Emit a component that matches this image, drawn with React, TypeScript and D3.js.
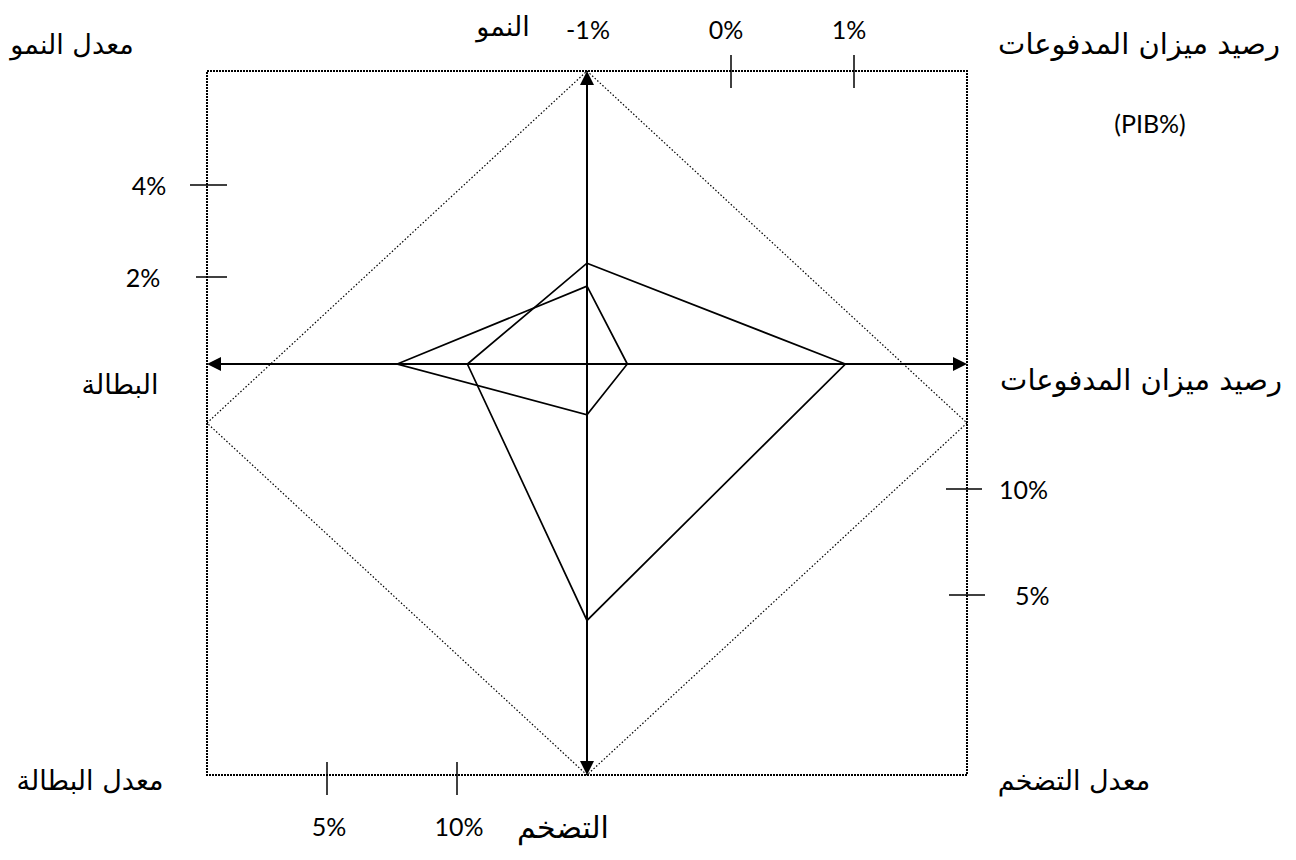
import * as d3 from "d3";

const W = 1296;
const H = 860;

// indicators of the magic square, one value per axis
const indicators = ["growth", "bop", "inflation", "unemployment"];
const seriesA: number[] = [2.3, 0.93, 3.8, 10.4];
const seriesB: number[] = [1.8, -0.72, 13.5, 7.7];

const growthTicks = [2, 4];
const bopTicks = [-1, 0, 1];
const inflationTicks = [10, 5];
const unempTicks = [5, 10];

const frame = { left: 207, right: 967, top: 71, bottom: 775 };
const cx = 587;
const cy = 364;

const growthY = d3.scaleLinear().domain([2, 4]).range([277, 185]);
const bopX = d3.scaleLinear().domain([-1, 0, 1]).range([587, 731, 854]);
const inflY = d3.scaleLinear().domain([5, 10]).range([595, 489]);
const unempX = d3.scaleLinear().domain([5, 10]).range([327, 457]);

const toPoints = (vals: number[]): [number, number][] =>
  indicators.map((k, i) => {
    const v = vals[i];
    if (k === "growth") return [cx, growthY(v)];
    if (k === "bop") return [bopX(v), cy];
    if (k === "inflation") return [cx, inflY(v)];
    return [unempX(v), cy];
  });

const line = d3.line<[number, number]>().curve(d3.curveLinearClosed);

const AR = "'DejaVu Sans', 'Liberation Sans', sans-serif";
const NUM = "Lato, 'Open Sans', sans-serif";

const App = () => {
  document.body.style.margin = "0";
  const f = frame;
  const diamond: [number, number][] = [
    [cx, f.top],
    [f.right, (f.top + f.bottom) / 2],
    [cx, f.bottom],
    [f.left, (f.top + f.bottom) / 2],
  ];
  const ah = 14;
  const aw = 7;
  return (
    <svg width={W} height={H} style={{ display: "block", background: "#fff" }}>
      {/* dotted frame */}
      <rect
        x={f.left}
        y={f.top}
        width={f.right - f.left}
        height={f.bottom - f.top}
        fill="none"
        stroke="#000"
        strokeWidth={2}
        strokeDasharray="2,1"
      />
      <path
        d={line(diamond) ?? ""}
        fill="none"
        stroke="#000"
        strokeWidth={1.2}
        strokeDasharray="1.5,2"
      />

      {/* axes */}
      <line x1={cx} y1={f.top + ah} x2={cx} y2={f.bottom - ah} stroke="#000" strokeWidth={2} />
      <line x1={f.left + ah} y1={cy} x2={f.right - ah} y2={cy} stroke="#000" strokeWidth={2} />
      <path d={`M${cx},${f.top}L${cx - aw},${f.top + ah}L${cx + aw},${f.top + ah}Z`} />
      <path d={`M${cx},${f.bottom}L${cx - aw},${f.bottom - ah}L${cx + aw},${f.bottom - ah}Z`} />
      <path d={`M${f.left},${cy}L${f.left + ah},${cy - aw}L${f.left + ah},${cy + aw}Z`} />
      <path d={`M${f.right},${cy}L${f.right - ah},${cy - aw}L${f.right - ah},${cy + aw}Z`} />

      {/* series */}
      {[seriesA, seriesB].map((s, i) => (
        <path key={i} d={line(toPoints(s)) ?? ""} fill="none" stroke="#000" strokeWidth={1.7} />
      ))}

      {/* growth ticks (left) */}
      {growthTicks.map((t) => (
        <g key={"g" + t}>
          <line x1={t === 4 ? 190 : 196} x2={227} y1={growthY(t)} y2={growthY(t)} stroke="#000" strokeWidth={1.5} />
          <text x={t === 4 ? 149 : 143} y={growthY(t) + 10} fontFamily={NUM} fontSize={25} textAnchor="middle">
            {t}%
          </text>
        </g>
      ))}

      {/* bop ticks (top) */}
      {bopTicks.map((t) => (
        <g key={"b" + t}>
          {t !== -1 && (
            <line x1={bopX(t)} x2={bopX(t)} y1={55} y2={88} stroke="#000" strokeWidth={1.5} />
          )}
          <text x={bopX(t) - (t === -1 ? -1 : 5)} y={39} fontFamily={NUM} fontSize={25} textAnchor="middle">
            {t}%
          </text>
        </g>
      ))}

      {/* inflation ticks (right) */}
      {inflationTicks.map((t) => (
        <g key={"i" + t}>
          <line x1={t === 10 ? 946 : 949} x2={t === 10 ? 982 : 985} y1={inflY(t)} y2={inflY(t)} stroke="#000" strokeWidth={1.5} />
          <text x={t === 10 ? 999 : 1015} y={inflY(t) + 10} fontFamily={NUM} fontSize={25}>
            {t}%
          </text>
        </g>
      ))}

      {/* unemployment ticks (bottom) */}
      {unempTicks.map((t) => (
        <g key={"u" + t}>
          <line x1={unempX(t)} x2={unempX(t)} y1={762} y2={795} stroke="#000" strokeWidth={1.5} />
          <text x={unempX(t) + 2} y={836} fontFamily={NUM} fontSize={25} textAnchor="middle">
            {t}%
          </text>
        </g>
      ))}

      {/* labels */}
      <g fontFamily={AR} fill="#000" textAnchor="middle">
        <text x={72} y={54} fontSize={27}>معدل النمو</text>
        <text x={503} y={36} fontSize={27}>النمو</text>
        <text x={1139} y={54} fontSize={29}>رصيد ميزان المدفوعات</text>
        <text x={1150} y={133} fontSize={25} fontFamily={NUM}>(PIB%)</text>
        <text x={120} y={394} fontSize={27}>البطالة</text>
        <text x={1141} y={390} fontSize={29}>رصيد ميزان المدفوعات</text>
        <text x={90} y={790} fontSize={27}>معدل البطالة</text>
        <text x={1074} y={790} fontSize={27}>معدل التضخم</text>
        <text x={563} y={838} fontSize={30}>التضخم</text>
      </g>
    </svg>
  );
};

export default App;
